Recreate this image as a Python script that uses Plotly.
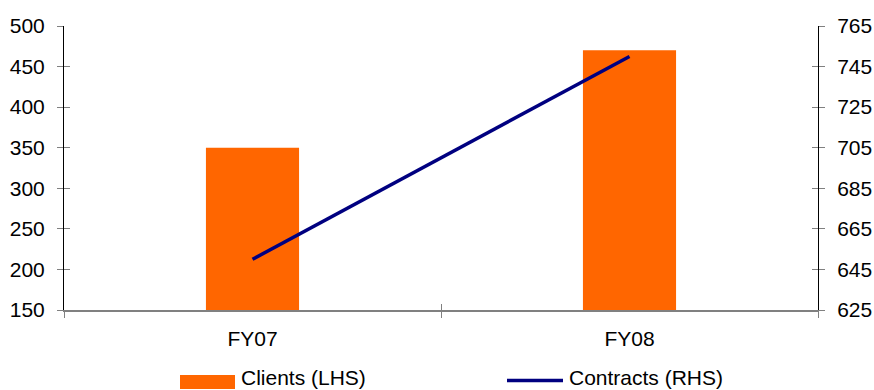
import plotly.graph_objects as go

# Data
categories = ["FY07", "FY08"]
clients = [350, 470]        # left-hand scale
contracts = [650, 750]      # right-hand scale
left_ticks = [150, 200, 250, 300, 350, 400, 450, 500]
right_ticks = [625, 645, 665, 685, 705, 725, 745, 765]

ORANGE = "#FF6600"
NAVY = "#000080"
FONT = dict(family="Liberation Sans, Arial, sans-serif", size=21, color="#000000")

fig = go.Figure()
fig.add_trace(go.Bar(x=categories, y=clients, name="Clients (LHS)",
                     marker=dict(color=ORANGE, line=dict(width=0)),
                     yaxis="y", width=0.247))
fig.add_trace(go.Scatter(x=categories, y=contracts, name="Contracts (RHS)",
                         mode="lines", line=dict(color=NAVY, width=3.5),
                         yaxis="y2"))

tick_common = dict(ticklen=6, tickwidth=1, tickcolor="#808080", automargin=False)

fig.update_layout(
    width=874, height=390,
    margin=dict(l=64, r=56, t=26, b=80, autoexpand=False),
    plot_bgcolor="white", paper_bgcolor="white",
    showlegend=False,
    font=FONT,
    xaxis=dict(type="category", range=[-0.5, 1.5], showgrid=False,
               showline=True, linecolor="#808080", linewidth=1.5,
               ticks="outside", tickson="boundaries", ticklabelstandoff=9,
               **tick_common),
    xaxis2=dict(overlaying="x", range=[-0.5, 1.5], showgrid=False,
                showline=False, showticklabels=False, zeroline=False,
                ticks="inside", tickmode="array", tickvals=[-0.5, 0.5, 1.5],
                **tick_common),
    yaxis=dict(range=[150, 500], tickmode="array", tickvals=left_ticks,
               showgrid=False, zeroline=False, showline=True,
               linecolor="#000000", linewidth=1, ticks="outside",
               ticklabelstandoff=8, **tick_common),
    yaxis2=dict(range=[625, 765], tickmode="array", tickvals=right_ticks,
                overlaying="y", side="right", showgrid=False, zeroline=False,
                showline=True, linecolor="#000000", linewidth=1,
                ticks="outside", ticklabelstandoff=8, **tick_common),
    yaxis3=dict(range=[150, 500], tickmode="array", tickvals=left_ticks,
                overlaying="y", side="left", showgrid=False, zeroline=False,
                showline=False, showticklabels=False, ticks="inside",
                **tick_common),
    yaxis4=dict(range=[625, 765], tickmode="array", tickvals=right_ticks,
                overlaying="y", side="right", showgrid=False, zeroline=False,
                showline=False, showticklabels=False, ticks="inside",
                **tick_common),
)

# Invisible traces so the overlay tick axes are rendered
fig.add_trace(go.Scatter(x=[None], y=[None], xaxis="x2", yaxis="y3",
                         showlegend=False, hoverinfo="skip"))
fig.add_trace(go.Scatter(x=[None], y=[None], yaxis="y4",
                         showlegend=False, hoverinfo="skip"))

# Legend below the plot area
plot_w = 874 - 64 - 56
plot_h = 390 - 26 - 80


def px_x(px):
    return (px - 64) / plot_w


def px_y(py):
    return (390 - 80 - py) / plot_h


fig.add_shape(type="rect", xref="paper", yref="paper",
              x0=px_x(180), x1=px_x(235), y0=px_y(389), y1=px_y(375),
              fillcolor=ORANGE, line=dict(width=0))
fig.add_shape(type="line", xref="paper", yref="paper",
              x0=px_x(507), x1=px_x(563), y0=px_y(380.5), y1=px_y(380.5),
              line=dict(color=NAVY, width=3.5))
fig.add_annotation(text="Clients (LHS)", xref="paper", yref="paper",
                   x=px_x(240), y=px_y(377), xanchor="left", yanchor="middle",
                   showarrow=False, font=FONT, borderpad=0)
fig.add_annotation(text="Contracts (RHS)", xref="paper", yref="paper",
                   x=px_x(568), y=px_y(377), xanchor="left", yanchor="middle",
                   showarrow=False, font=FONT, borderpad=0)

fig.write_html("out.html")
